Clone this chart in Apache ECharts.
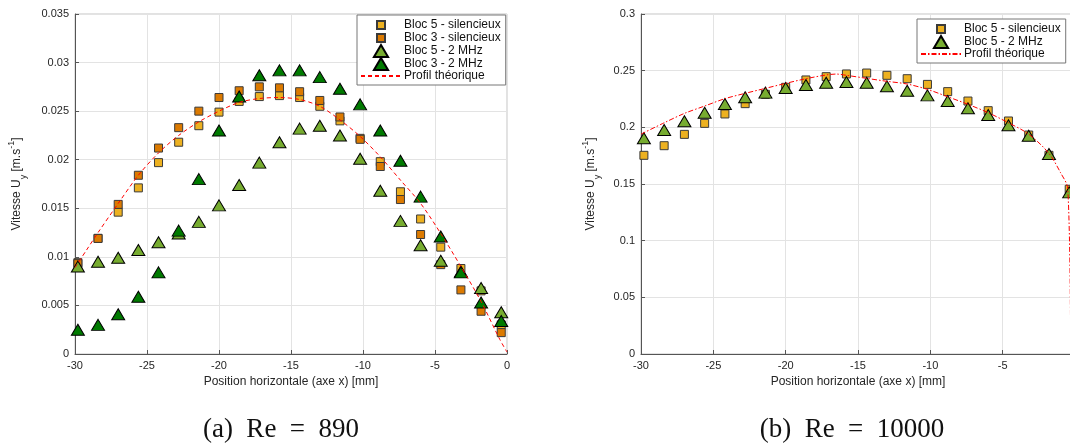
<!DOCTYPE html>
<html>
<head>
<meta charset="utf-8">
<script src="https://cdn.jsdelivr.net/npm/echarts@6/dist/echarts.min.js"></script>
<style>
html,body{margin:0;padding:0;background:#fff;}
#wrap{position:relative;width:1070px;height:446px;overflow:hidden;}
#c1{position:absolute;left:0;top:0;width:535px;height:446px;}
#c2{position:absolute;left:535px;top:0;width:535px;height:446px;}
</style>
</head>
<body>
<div id="wrap"><div id="c1"></div><div id="c2"></div></div>
<script>
// ---- data ----
const xPos = [-29.8, -28.4, -27.0, -25.6, -24.2, -22.8, -21.4, -20.0, -18.6, -17.2, -15.8, -14.4, -13.0, -11.6, -10.2, -8.8, -7.4, -6.0, -4.6, -3.2, -1.8, -0.4];

// (a) Re = 890
const bloc5Sil890 = [0.0094, 0.0119, 0.0146, 0.0171, 0.0197, 0.0218, 0.0235, 0.0249, 0.0260, 0.0265, 0.0266, 0.0264, 0.0255, 0.0240, 0.0222, 0.0198, 0.0167, 0.0139, 0.0110, 0.0088, 0.0065, 0.0030];
const bloc3Sil890 = [0.0093, 0.0119, 0.0154, 0.0184, 0.0212, 0.0233, 0.0250, 0.0264, 0.0271, 0.0275, 0.0274, 0.0270, 0.0261, 0.0244, 0.0221, 0.0193, 0.0159, 0.0123, 0.0092, 0.0066, 0.0044, 0.0022];
const bloc5Mhz890 = [0.0090, 0.0095, 0.0099, 0.0107, 0.0115, 0.0124, 0.0136, 0.0153, 0.0174, 0.0197, 0.0218, 0.0232, 0.0235, 0.0225, 0.0201, 0.0168, 0.0137, 0.0112, 0.0096, 0.0085, 0.0068, 0.0043];
const bloc3Mhz890 = [0.0025, 0.0030, 0.0041, 0.0059, 0.0084, 0.0127, 0.0180, 0.0230, 0.0265, 0.0287, 0.0292, 0.0292, 0.0285, 0.0273, 0.0257, 0.0230, 0.0199, 0.0162, 0.0121, 0.0084, 0.0053, 0.0034];
const theoX890 = [-30, -29.2, -28.4, -27.0, -25.6, -24.2, -22.8, -21.4, -20.0, -18.6, -17.2, -15.8, -14.4, -13.0, -11.6, -10.2, -8.8, -7.4, -6.0, -4.6, -3.2, -1.8, -0.5, 0];
const theoY890 = [0.0089, 0.0107, 0.0125, 0.0155, 0.0184, 0.0207, 0.0225, 0.0239, 0.0250, 0.0259, 0.0263, 0.0264, 0.0262, 0.0255, 0.0241, 0.0224, 0.0203, 0.0179, 0.0155, 0.0124, 0.0090, 0.0054, 0.0015, 0.0002];

// (b) Re = 10000
const bloc5Sil10000 = [0.1753, 0.1838, 0.1938, 0.2035, 0.2118, 0.2209, 0.2291, 0.2353, 0.2418, 0.2447, 0.2471, 0.2479, 0.2459, 0.2429, 0.2379, 0.2315, 0.2232, 0.2147, 0.2056, 0.1932, 0.1753, 0.1453];
const bloc5Mhz10000 = [0.1903, 0.1976, 0.2053, 0.2129, 0.2206, 0.2265, 0.2306, 0.2347, 0.2373, 0.2394, 0.2400, 0.2394, 0.2362, 0.2323, 0.2282, 0.2232, 0.2168, 0.2109, 0.2018, 0.1926, 0.1765, 0.1426];
const theoX10000 = [-30, -28.4, -27.0, -25.6, -24.2, -22.8, -21.4, -20.0, -18.6, -17.2, -16.5, -15.8, -14.4, -13.0, -11.6, -10.2, -8.8, -7.4, -6.0, -4.6, -3.2, -1.8, -1.0, -0.5, -0.3];
const theoY10000 = [0.194, 0.204, 0.2123, 0.2188, 0.2253, 0.2300, 0.2344, 0.2388, 0.2429, 0.2462, 0.2470, 0.2459, 0.2432, 0.2406, 0.2382, 0.2335, 0.2270, 0.2203, 0.2129, 0.2040, 0.1940, 0.1770, 0.1600, 0.1460, 0.0];

const xTickLabels = ['-30', '-25', '-20', '-15', '-10', '-5', '0'];
const xName = 'Position horizontale (axe x) [mm]';
const captions = ['(a)  Re  =  890', '(b)  Re  =  10000'];

// ---- styles ----
const FONT = 'Liberation Sans';
const C_Y = '#EDB120', C_O = '#DC7A00', C_LG = '#77AC30', C_DG = '#007A00';
const zip = (xs, ys) => xs.map((x, i) => [x, ys[i]]);
// legend icons (padded bbox so they keep their natural size)
const ICON_SQ = 'path://M0,0M12,12M2,2L10,2L10,10L2,10Z';
const ICON_TRI = 'path://M0,0M13,11M6.5,0L13,11L0,11Z';

const nameRich = {
  a: {fontFamily: FONT, fontSize: 12, color: '#262626', lineHeight: 18, verticalAlign: 'middle'},
  s: {fontFamily: FONT, fontSize: 9, color: '#262626', lineHeight: 18, verticalAlign: 'bottom', padding: [0,0,-2,0]},
  p: {fontFamily: FONT, fontSize: 9, color: '#262626', lineHeight: 18, verticalAlign: 'top', padding: [-1,0,0,0]}
};

function baseOption(o) {
  return {
    animation: false,
    textStyle: {fontFamily: FONT},
    grid: {left: o.gl, right: o.gr, top: 14, bottom: 92, outerBoundsMode: 'none', containLabel: false,
      show: true, borderColor: '#c4c4c4', borderWidth: 1, backgroundColor: 'transparent'},
    xAxis: {
      type: 'value', min: -30, max: 0, interval: 5,
      axisLine: {show: true, onZero: false, lineStyle: {color: '#555', width: 1}},
      axisTick: {show: true, inside: true, length: 4, lineStyle: {color: '#555'}},
      axisLabel: {color: '#262626', fontSize: 11, fontFamily: FONT, margin: 6,
        formatter: v => xTickLabels[Math.round((v + 30) / 5)]},
      splitLine: {show: true, lineStyle: {color: '#e3e3e3', width: 1}},
      name: xName, nameLocation: 'middle', nameGap: 22,
      nameTextStyle: {color: '#262626', fontSize: 12, fontFamily: FONT}
    },
    yAxis: {
      type: 'value', min: 0, max: o.ymax, interval: o.yint,
      axisLine: {show: true, onZero: false, lineStyle: {color: '#555', width: 1}},
      axisTick: {show: true, inside: true, length: 4, lineStyle: {color: '#555'}},
      axisLabel: {color: '#262626', fontSize: 11, fontFamily: FONT, margin: 6},
      splitLine: {show: true, lineStyle: {color: '#e3e3e3', width: 1}},
      name: '{a|Vitesse U}{s|y}{a| [m.s}{p|-1}{a|]}', nameLocation: 'middle', nameGap: o.ng, nameRotate: 90,
      nameTextStyle: {rich: nameRich}
    },
    legend: {
      left: o.ll, top: o.lt, orient: 'vertical',
      itemWidth: 40, itemHeight: 12, itemGap: -1, symbolKeepAspect: true,
      padding: [3, 5, 3, 3],
      borderColor: '#777', borderWidth: 1, backgroundColor: '#fff',
      textStyle: {fontFamily: FONT, fontSize: 12, lineHeight: 12, color: '#111', padding: [0,0,0,-2]},
      data: o.legendData
    },
    graphic: [{
      type: 'text', x: o.cx, y: 416,
      style: {text: o.caption, font: '27px "Liberation Serif"', fill: '#111', textAlign: 'center', textVerticalAlign: 'top'}
    }],
    series: o.series
  };
}

function sq(name, data, color) {
  return {type: 'scatter', name, data, symbol: 'rect', symbolSize: 8,
    itemStyle: {color, borderColor: '#3a3a3a', borderWidth: 1, opacity: 1}};
}
function tri(name, data, color) {
  return {type: 'scatter', name, data, symbol: 'triangle', symbolSize: [13, 11],
    itemStyle: {color, borderColor: '#000', borderWidth: 1, opacity: 1}};
}
function theo(data, dash) {
  return {type: 'line', name: 'Profil théorique', data, symbol: 'none', showSymbol: false,
    smooth: 0.3, clip: true, itemStyle: {color: '#ff0000'},
    lineStyle: {color: '#ff0000', width: 1, type: dash}, z: 5};
}
const lgTheo = {name: 'Profil théorique', itemStyle: {opacity: 0}};

const chart1 = echarts.init(document.getElementById('c1'), null, {renderer: 'canvas'});
chart1.setOption(baseOption({
  gl: 75, gr: 28, ymax: 0.035, yint: 0.005, ng: 49, ll: 357, lt: 15, cx: 281,
  caption: captions[0],
  legendData: [
    {name: 'Bloc 5 - silencieux', icon: ICON_SQ},
    {name: 'Bloc 3 - silencieux', icon: ICON_SQ},
    {name: 'Bloc 5 - 2 MHz', icon: ICON_TRI},
    {name: 'Bloc 3 - 2 MHz', icon: ICON_TRI},
    lgTheo],
  series: [
    sq('Bloc 5 - silencieux', zip(xPos, bloc5Sil890), C_Y),
    sq('Bloc 3 - silencieux', zip(xPos, bloc3Sil890), C_O),
    tri('Bloc 5 - 2 MHz', zip(xPos, bloc5Mhz890), C_LG),
    tri('Bloc 3 - 2 MHz', zip(xPos, bloc3Mhz890), C_DG),
    theo(zip(theoX890, theoY890), [4, 3])
  ]
}));

const chart2 = echarts.init(document.getElementById('c2'), null, {renderer: 'canvas'});
chart2.setOption(baseOption({
  gl: 106, gr: -5, ymax: 0.3, yint: 0.05, ng: 41, ll: 382, lt: 19, cx: 317,
  caption: captions[1],
  legendData: [
    {name: 'Bloc 5 - silencieux', icon: ICON_SQ},
    {name: 'Bloc 5 - 2 MHz', icon: ICON_TRI},
    lgTheo],
  series: [
    sq('Bloc 5 - silencieux', zip(xPos, bloc5Sil10000), C_Y),
    tri('Bloc 5 - 2 MHz', zip(xPos, bloc5Mhz10000), C_LG),
    theo(zip(theoX10000, theoY10000), [5, 2, 1.5, 2])
  ]
}));
</script>
</body>
</html>
